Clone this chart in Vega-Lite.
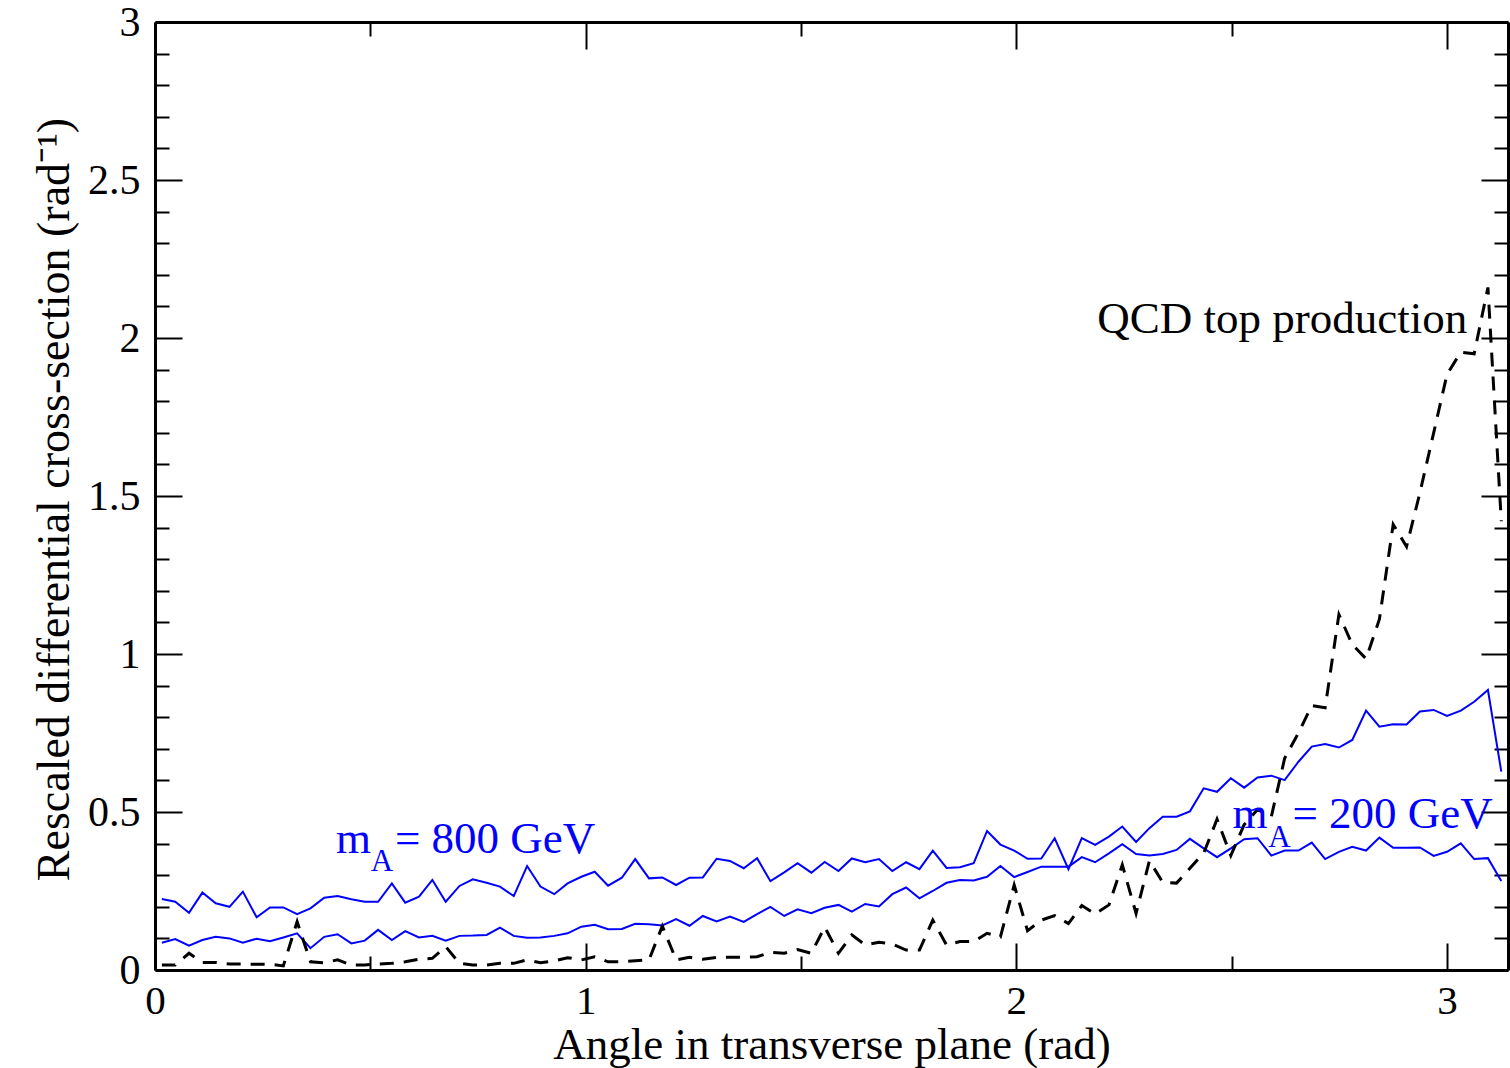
{
  "$schema": "https://vega.github.io/schema/vega-lite/v6.json",
  "width": 1353,
  "height": 948,
  "autosize": {"type": "none"},
  "padding": {"left": 155, "top": 22, "right": 2, "bottom": 98},
  "background": "white",
  "config": {
    "view": {"stroke": null},
    "font": "Liberation Serif",
    "axis": {"grid": false, "labelFont": "Liberation Serif", "titleFont": "Liberation Serif", "labelColor": "black", "titleColor": "black", "domainColor": "black", "tickColor": "black", "titleFontWeight": "normal", "labelFlush": false, "labelOverlap": false, "tickWidth": 2, "domainWidth": 3}
  },
  "data": {"values": [
    {"x":0.016,"u":0.225,"l":0.086,"d":0.016},
    {"x":0.047,"u":0.216,"l":0.098,"d":0.016},
    {"x":0.079,"u":0.181,"l":0.077,"d":0.053},
    {"x":0.110,"u":0.245,"l":0.095,"d":0.024},
    {"x":0.141,"u":0.211,"l":0.105,"d":0.024},
    {"x":0.173,"u":0.200,"l":0.100,"d":0.019},
    {"x":0.204,"u":0.248,"l":0.086,"d":0.019},
    {"x":0.236,"u":0.167,"l":0.099,"d":0.018},
    {"x":0.267,"u":0.198,"l":0.091,"d":0.018},
    {"x":0.298,"u":0.198,"l":0.103,"d":0.013},
    {"x":0.330,"u":0.177,"l":0.116,"d":0.153},
    {"x":0.361,"u":0.195,"l":0.069,"d":0.026},
    {"x":0.393,"u":0.229,"l":0.105,"d":0.023},
    {"x":0.424,"u":0.234,"l":0.113,"d":0.032},
    {"x":0.456,"u":0.224,"l":0.084,"d":0.016},
    {"x":0.487,"u":0.216,"l":0.093,"d":0.016},
    {"x":0.518,"u":0.216,"l":0.127,"d":0.019},
    {"x":0.550,"u":0.274,"l":0.095,"d":0.021},
    {"x":0.581,"u":0.213,"l":0.123,"d":0.026},
    {"x":0.613,"u":0.232,"l":0.103,"d":0.034},
    {"x":0.644,"u":0.285,"l":0.108,"d":0.037},
    {"x":0.675,"u":0.216,"l":0.093,"d":0.074},
    {"x":0.707,"u":0.266,"l":0.108,"d":0.021},
    {"x":0.738,"u":0.287,"l":0.109,"d":0.016},
    {"x":0.770,"u":0.276,"l":0.111,"d":0.016},
    {"x":0.801,"u":0.264,"l":0.134,"d":0.021},
    {"x":0.833,"u":0.234,"l":0.108,"d":0.021},
    {"x":0.864,"u":0.329,"l":0.102,"d":0.032},
    {"x":0.895,"u":0.264,"l":0.103,"d":0.023},
    {"x":0.927,"u":0.240,"l":0.108,"d":0.029},
    {"x":0.958,"u":0.274,"l":0.116,"d":0.039},
    {"x":0.990,"u":0.295,"l":0.137,"d":0.032},
    {"x":1.021,"u":0.311,"l":0.143,"d":0.042},
    {"x":1.052,"u":0.267,"l":0.129,"d":0.026},
    {"x":1.084,"u":0.292,"l":0.130,"d":0.026},
    {"x":1.115,"u":0.351,"l":0.146,"d":0.029},
    {"x":1.147,"u":0.290,"l":0.145,"d":0.032},
    {"x":1.178,"u":0.293,"l":0.141,"d":0.139},
    {"x":1.210,"u":0.269,"l":0.161,"d":0.032},
    {"x":1.241,"u":0.292,"l":0.140,"d":0.040},
    {"x":1.272,"u":0.293,"l":0.171,"d":0.034},
    {"x":1.304,"u":0.352,"l":0.154,"d":0.040},
    {"x":1.335,"u":0.345,"l":0.169,"d":0.040},
    {"x":1.367,"u":0.322,"l":0.152,"d":0.040},
    {"x":1.398,"u":0.354,"l":0.177,"d":0.042},
    {"x":1.429,"u":0.281,"l":0.200,"d":0.056},
    {"x":1.461,"u":0.309,"l":0.171,"d":0.053},
    {"x":1.492,"u":0.338,"l":0.192,"d":0.065},
    {"x":1.524,"u":0.308,"l":0.180,"d":0.053},
    {"x":1.555,"u":0.342,"l":0.197,"d":0.136},
    {"x":1.587,"u":0.313,"l":0.206,"d":0.053},
    {"x":1.618,"u":0.353,"l":0.185,"d":0.111},
    {"x":1.649,"u":0.341,"l":0.209,"d":0.079},
    {"x":1.681,"u":0.351,"l":0.201,"d":0.088},
    {"x":1.712,"u":0.313,"l":0.240,"d":0.082},
    {"x":1.744,"u":0.341,"l":0.261,"d":0.063},
    {"x":1.775,"u":0.319,"l":0.227,"d":0.063},
    {"x":1.806,"u":0.378,"l":0.250,"d":0.158},
    {"x":1.838,"u":0.323,"l":0.276,"d":0.079},
    {"x":1.869,"u":0.325,"l":0.285,"d":0.090},
    {"x":1.901,"u":0.338,"l":0.283,"d":0.090},
    {"x":1.932,"u":0.440,"l":0.295,"d":0.116},
    {"x":1.963,"u":0.397,"l":0.329,"d":0.105},
    {"x":1.995,"u":0.378,"l":0.294,"d":0.269},
    {"x":2.026,"u":0.352,"l":0.310,"d":0.124},
    {"x":2.058,"u":0.353,"l":0.327,"d":0.158},
    {"x":2.089,"u":0.417,"l":0.327,"d":0.172},
    {"x":2.121,"u":0.319,"l":0.327,"d":0.147},
    {"x":2.152,"u":0.417,"l":0.357,"d":0.204},
    {"x":2.183,"u":0.396,"l":0.341,"d":0.177},
    {"x":2.215,"u":0.422,"l":0.369,"d":0.206},
    {"x":2.246,"u":0.454,"l":0.398,"d":0.333},
    {"x":2.278,"u":0.405,"l":0.367,"d":0.179},
    {"x":2.309,"u":0.449,"l":0.362,"d":0.346},
    {"x":2.340,"u":0.485,"l":0.367,"d":0.277},
    {"x":2.372,"u":0.485,"l":0.380,"d":0.275},
    {"x":2.403,"u":0.502,"l":0.415,"d":0.322},
    {"x":2.435,"u":0.575,"l":0.385,"d":0.370},
    {"x":2.466,"u":0.564,"l":0.357,"d":0.477},
    {"x":2.498,"u":0.607,"l":0.385,"d":0.362},
    {"x":2.529,"u":0.577,"l":0.414,"d":0.460},
    {"x":2.560,"u":0.609,"l":0.417,"d":0.508},
    {"x":2.592,"u":0.615,"l":0.362,"d":0.485},
    {"x":2.623,"u":0.601,"l":0.378,"d":0.670},
    {"x":2.655,"u":0.659,"l":0.378,"d":0.750},
    {"x":2.686,"u":0.707,"l":0.403,"d":0.837},
    {"x":2.717,"u":0.715,"l":0.351,"d":0.830},
    {"x":2.749,"u":0.704,"l":0.374,"d":1.125},
    {"x":2.780,"u":0.728,"l":0.390,"d":1.030},
    {"x":2.812,"u":0.821,"l":0.378,"d":0.985},
    {"x":2.843,"u":0.770,"l":0.419,"d":1.110},
    {"x":2.875,"u":0.778,"l":0.387,"d":1.410},
    {"x":2.906,"u":0.777,"l":0.387,"d":1.340},
    {"x":2.937,"u":0.818,"l":0.388,"d":1.510},
    {"x":2.969,"u":0.823,"l":0.361,"d":1.700},
    {"x":3.000,"u":0.804,"l":0.374,"d":1.885},
    {"x":3.032,"u":0.821,"l":0.401,"d":1.955},
    {"x":3.063,"u":0.849,"l":0.351,"d":1.950},
    {"x":3.095,"u":0.886,"l":0.354,"d":2.160},
    {"x":3.126,"u":0.628,"l":0.282,"d":1.420}
  ]},
  "layer": [
    {
      "mark": {"type": "line", "color": "#0000ff", "strokeWidth": 2},
      "encoding": {
        "x": {"field": "x", "type": "quantitative", "scale": {"domain": [0, 3.14159], "nice": false, "zero": false},
          "axis": {"orient": "bottom", "values": [0, 1, 2, 3], "format": "~g", "tickSize": -27, "labelPadding": 38, "labelFontSize": 41, "labelBaseline": "top",
            "title": "Angle in transverse plane (rad)", "titleFontSize": 45, "titleY": 88, "titleBaseline": "alphabetic"}},
        "y": {"field": "u", "type": "quantitative", "scale": {"domain": [0, 3], "nice": false},
          "axis": {"orient": "left", "values": [0, 0.5, 1, 1.5, 2, 2.5, 3], "format": "~g", "tickSize": -27, "labelPadding": 42, "labelFontSize": 42, "labelBaseline": "middle",
            "title": "Rescaled differential cross-section (rad⁻¹)", "titleFontSize": 46, "titleX": -87, "titleY": 477, "titleBaseline": "alphabetic", "titleAngle": 270}}
      }
    },
    {
      "mark": {"type": "line", "color": "#0000ff", "strokeWidth": 2},
      "encoding": {
        "x": {"field": "x", "type": "quantitative",
          "axis": {"orient": "bottom", "values": [0.5, 1.5, 2.5], "tickSize": -14, "labels": false, "domain": false, "title": null}},
        "y": {"field": "l", "type": "quantitative",
          "axis": {"orient": "left", "values": [0.1,0.2,0.3,0.4,0.6,0.7,0.8,0.9,1.1,1.2,1.3,1.4,1.6,1.7,1.8,1.9,2.1,2.2,2.3,2.4,2.6,2.7,2.8,2.9], "tickSize": -14, "labels": false, "domain": false, "title": null}}
      }
    },
    {
      "mark": {"type": "line", "color": "black", "strokeWidth": 3, "strokeDash": [14, 10]},
      "encoding": {
        "x": {"field": "x", "type": "quantitative",
          "axis": {"orient": "top", "values": [0, 1, 2, 3], "tickSize": -27, "labels": false, "title": null}},
        "y": {"field": "d", "type": "quantitative",
          "axis": {"orient": "right", "values": [0, 0.5, 1, 1.5, 2, 2.5, 3], "tickSize": -27, "labels": false, "title": null}}
      }
    },
    {
      "data": {"values": [{"t": "QCD top production"}]},
      "mark": {"type": "text", "color": "black", "fontSize": 45, "align": "left", "baseline": "alphabetic", "font": "Liberation Serif"},
      "encoding": {
        "x": {"datum": 2.188, "type": "quantitative",
          "axis": {"orient": "top", "values": [0.5, 1.5, 2.5], "tickSize": -14, "labels": false, "domain": false, "title": null}},
        "y": {"datum": 2.016, "type": "quantitative",
          "axis": {"orient": "right", "values": [0.1,0.2,0.3,0.4,0.6,0.7,0.8,0.9,1.1,1.2,1.3,1.4,1.6,1.7,1.8,1.9,2.1,2.2,2.3,2.4,2.6,2.7,2.8,2.9], "tickSize": -14, "labels": false, "domain": false, "title": null}},
        "text": {"field": "t"}
      }
    },
    {
      "data": {"values": [{"t": "m"}]},
      "mark": {"type": "text", "color": "#0000ff", "fontSize": 45, "align": "left", "baseline": "alphabetic", "font": "Liberation Serif"},
      "encoding": {"x": {"datum": 0.420, "type": "quantitative", "axis": null}, "y": {"datum": 0.370, "type": "quantitative", "axis": null}, "text": {"field": "t"}}
    },
    {
      "data": {"values": [{"t": "A"}]},
      "mark": {"type": "text", "color": "#0000ff", "fontSize": 31, "align": "left", "baseline": "alphabetic", "font": "Liberation Serif"},
      "encoding": {"x": {"datum": 0.501, "type": "quantitative", "axis": null}, "y": {"datum": 0.312, "type": "quantitative", "axis": null}, "text": {"field": "t"}}
    },
    {
      "data": {"values": [{"t": "= 800 GeV"}]},
      "mark": {"type": "text", "color": "#0000ff", "fontSize": 45, "align": "left", "baseline": "alphabetic", "font": "Liberation Serif"},
      "encoding": {"x": {"datum": 0.557, "type": "quantitative", "axis": null}, "y": {"datum": 0.370, "type": "quantitative", "axis": null}, "text": {"field": "t"}}
    },
    {
      "data": {"values": [{"t": "m"}]},
      "mark": {"type": "text", "color": "#0000ff", "fontSize": 45, "align": "left", "baseline": "alphabetic", "font": "Liberation Serif"},
      "encoding": {"x": {"datum": 2.502, "type": "quantitative", "axis": null}, "y": {"datum": 0.450, "type": "quantitative", "axis": null}, "text": {"field": "t"}}
    },
    {
      "data": {"values": [{"t": "A"}]},
      "mark": {"type": "text", "color": "#0000ff", "fontSize": 31, "align": "left", "baseline": "alphabetic", "font": "Liberation Serif"},
      "encoding": {"x": {"datum": 2.585, "type": "quantitative", "axis": null}, "y": {"datum": 0.390, "type": "quantitative", "axis": null}, "text": {"field": "t"}}
    },
    {
      "data": {"values": [{"t": "= 200 GeV"}]},
      "mark": {"type": "text", "color": "#0000ff", "fontSize": 45, "align": "left", "baseline": "alphabetic", "font": "Liberation Serif"},
      "encoding": {"x": {"datum": 2.641, "type": "quantitative", "axis": null}, "y": {"datum": 0.450, "type": "quantitative", "axis": null}, "text": {"field": "t"}}
    }
  ],
  "resolve": {"axis": {"x": "independent", "y": "independent"}}
}
